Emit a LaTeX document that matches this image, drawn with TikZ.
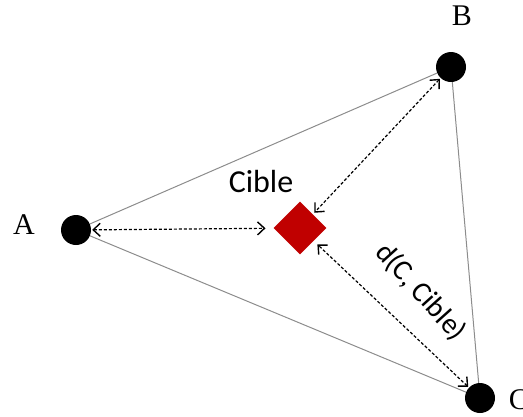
\documentclass[tikz,border=0pt]{standalone}
\usepackage{fontspec}
\usepackage{tikz}
\usetikzlibrary{shapes.geometric,arrows.meta}
\newfontfamily\cibleFont{Carlito}
\newfontfamily\vertexFont{Liberation Serif}
\definecolor{cibleRed}{RGB}{192,0,0}
\definecolor{edgeGray}{RGB}{140,140,140}

\begin{document}
\begin{tikzpicture}[x=1pt, y=-1pt,
    vertex/.style={circle, fill=black, inner sep=0pt, minimum size=30pt},
    target/.style={diamond, fill=cibleRed, inner sep=0pt, minimum size=53pt},
    edge/.style={draw=edgeGray, line width=1pt},
    dist/.style={dash pattern=on 3pt off 2pt, line width=1.2pt,
        {Straight Barb[length=7pt,width=13pt,line width=1.4pt]}-{Straight Barb[length=7pt,width=13pt,line width=1.4pt]}},
    vlabel/.style={font=\vertexFont\fontsize{30}{36}\selectfont},
    tlabel/.style={font=\cibleFont\fontsize{32}{38}\selectfont}]
    \useasboundingbox (0,0) rectangle (523,416);

    % Define vertices of the triangle
    \node[vertex] (A) at (76,230) {};
    \node[vertex] (B) at (451,67) {};
    \node[vertex] (C) at (480,398) {};
    \node[target] (cible) at (300,228) {};

    % Draw edges
    \draw[edge] (A) -- (B);
    \draw[edge] (B) -- (C);
    \draw[edge] (C) -- (A);

    % Distances to the target
    \draw[dist, shorten <=1pt, shorten >=8pt] (A) -- (cible);
    \draw[dist, shorten <=1pt, shorten >=2pt] (B) -- (cible);
    \draw[dist, shorten <=1pt, shorten >=5pt] (C) -- (cible);

    % Add labels
    \node[vlabel] (labelA) at (24,225) {A};
    \node[vlabel] (labelB) at (462,16) {B};
    \node[vlabel] (labelC) at (519,400) {C};
    \node[tlabel] (labelCible) at (261,181) {Cible};
    \node[tlabel, font=\cibleFont\fontsize{29}{34}\selectfont, rotate=-48] (labelDist) at (421,292) {d(C, Cible)};
\end{tikzpicture}
\end{document}
